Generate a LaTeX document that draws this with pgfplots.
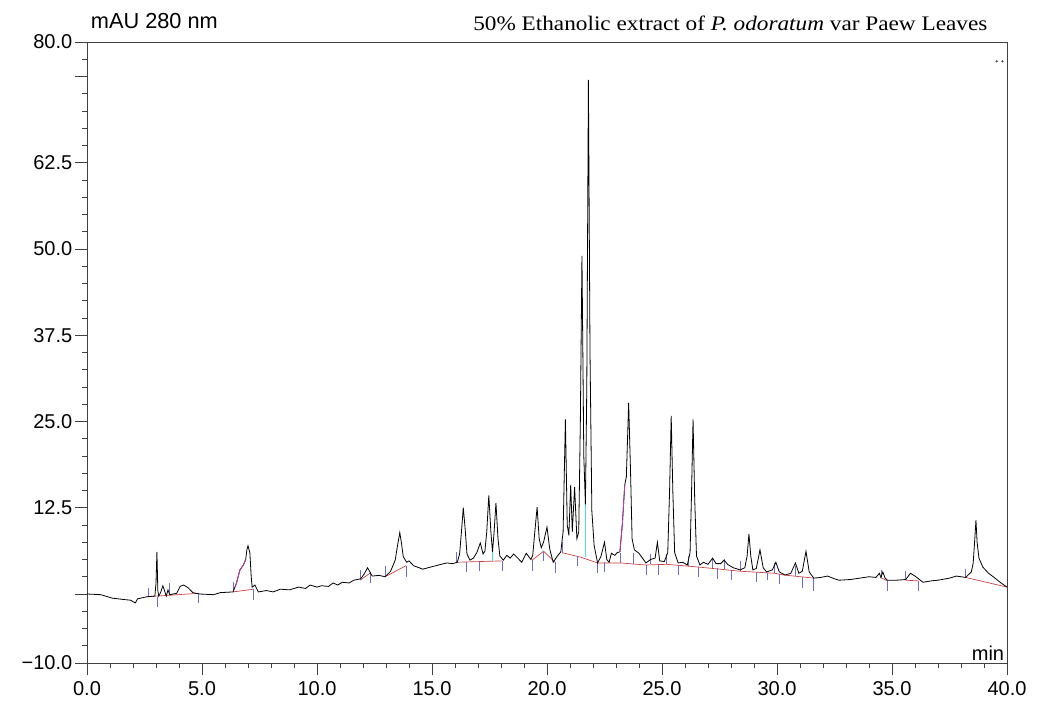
\documentclass[border=0pt]{standalone}
\usepackage{pgfplots}
\pgfplotsset{compat=1.18}
\usepackage{fontspec}
\setmainfont{Liberation Sans}
\newfontfamily\seriffont{Liberation Serif}
\definecolor{basered}{RGB}{205,60,60}
\definecolor{markblue}{RGB}{110,110,200}
\definecolor{dropcyan}{RGB}{90,210,230}
\definecolor{edgemag}{RGB}{190,60,170}
\pgfplotstableread{
x y
0.0 0.0
0.6 -0.1
1.1 -0.6
1.6 -0.8
1.9 -0.9
2.1 -1.3
2.2 -0.7
2.6 -0.4
2.95 -0.3
3.0 1.5
3.04 6.1
3.08 0.5
3.12 -0.3
3.2 0.2
3.3 1.2
3.38 0.4
3.45 -0.3
3.52 0.6
3.6 -0.1
3.75 0.0
3.9 0.1
4.05 1.1
4.2 1.3
4.4 0.9
4.6 0.2
4.9 0.0
5.5 -0.1
5.8 0.2
6.35 0.3
6.5 1.6
6.65 3.5
6.8 4.2
6.9 5.0
6.95 6.4
7.0 7.0
7.08 6.0
7.14 2.5
7.18 1.0
7.3 1.3
7.45 0.3
7.8 0.5
8.1 0.3
8.4 0.7
8.8 0.6
9.2 1.0
9.5 0.8
9.7 1.3
10.0 1.0
10.2 1.2
10.5 1.1
10.7 1.6
10.9 1.3
11.1 1.7
11.4 1.6
11.6 2.0
11.9 2.2
12.05 2.9
12.2 3.8
12.4 2.6
12.7 2.7
12.96 2.5
13.2 3.3
13.4 4.9
13.5 7.0
13.6 8.9
13.68 7.2
13.75 5.4
13.9 4.6
14.0 4.8
14.2 4.1
14.6 3.6
15.05 4.0
15.4 4.3
15.65 4.5
15.9 4.4
16.1 4.6
16.2 5.8
16.28 9.0
16.36 12.5
16.44 9.5
16.52 5.8
16.65 4.9
16.8 5.2
16.95 6.0
17.1 7.4
17.22 5.8
17.3 6.2
17.38 9.0
17.47 14.3
17.56 9.0
17.63 6.1
17.7 9.0
17.78 13.2
17.87 8.0
17.95 5.5
18.1 4.9
18.25 5.6
18.4 5.2
18.55 5.8
18.7 5.3
18.9 4.6
19.1 5.9
19.3 5.0
19.38 5.6
19.47 9.0
19.57 12.6
19.66 8.0
19.75 6.7
19.85 7.5
20.0 9.7
20.12 6.5
20.27 4.6
20.45 5.5
20.6 6.1
20.7 9.0
20.8 25.3
20.88 10.0
20.95 8.5
21.03 15.8
21.1 9.0
21.2 15.5
21.3 8.0
21.38 9.0
21.45 25.0
21.52 49.0
21.6 20.0
21.67 13.0
21.73 30.0
21.8 74.5
21.87 35.0
21.95 12.0
22.05 7.0
22.2 4.5
22.35 5.5
22.5 7.5
22.6 5.0
22.7 4.6
22.8 5.9
22.95 5.6
23.05 6.0
23.17 6.1
23.28 10.3
23.38 15.8
23.45 17.0
23.55 27.7
23.63 18.0
23.7 8.0
23.8 6.4
24.0 5.9
24.3 4.5
24.5 5.0
24.7 5.2
24.8 7.5
24.9 4.8
25.1 4.7
25.25 6.0
25.33 15.0
25.4 25.8
25.47 15.0
25.55 6.0
25.7 4.5
25.9 4.6
26.1 4.2
26.22 6.0
26.28 14.0
26.35 25.3
26.42 14.0
26.5 5.5
26.65 4.2
26.8 4.6
27.0 4.3
27.2 5.2
27.35 4.4
27.55 4.4
27.7 4.9
27.85 4.3
28.1 3.8
28.4 3.5
28.6 3.8
28.7 5.5
28.78 8.7
28.86 5.5
28.95 3.5
29.1 3.7
29.26 6.4
29.4 3.8
29.55 3.2
29.8 3.5
29.95 4.6
30.1 3.2
30.35 2.75
30.6 3.0
30.8 4.5
30.95 3.0
31.1 3.3
31.26 6.2
31.4 3.2
31.6 2.3
31.9 2.4
32.2 2.6
32.5 2.2
32.7 2.0
33.2 2.1
33.6 2.3
34.0 2.5
34.3 2.4
34.45 3.0
34.52 2.4
34.6 3.2
34.7 2.3
34.8 2.0
35.2 2.0
35.6 2.1
35.8 3.0
36.0 2.6
36.35 1.7
36.7 1.9
37.0 2.0
37.5 2.3
37.8 2.6
38.2 2.4
38.45 3.2
38.53 4.5
38.6 8.0
38.65 10.7
38.7 7.5
38.78 5.2
38.95 3.9
39.2 3.0
39.4 2.5
39.7 1.7
40.0 1.0
}\trace
\begin{document}
\begin{tikzpicture}
\path[use as bounding box] (-65.25pt,-29.25pt) rectangle (716.25pt,497.25pt);
\begin{axis}[
  at={(0,0)}, anchor=south west,
  width=690pt, height=465.75pt, scale only axis,
  xmin=0, xmax=40, ymin=-10, ymax=80,
  clip mode=individual,
  axis line style={line width=0.6pt, draw=black!75},
  every tick/.style={line width=0.6pt, draw=black!75},
  tick align=outside, tick pos=left,
  major tick length=9pt, minor tick length=4pt,
  xtick={0,5,...,40},
  xticklabels={0.0,5.0,10.0,15.0,20.0,25.0,30.0,35.0,40.0},
  minor xtick={0,1,...,40},
  ytick={-10,12.5,25,37.5,50,62.5,80},
  yticklabels={−10.0,12.5,25.0,37.5,50.0,62.5,80.0},
  minor ytick={-7.5,-5,...,77.5},
  extra y ticks={0,75}, extra y tick labels={},
  extra y tick style={major tick length=9pt},
  unbounded coords=jump,
  tick label style={font=\fontsize{15}{17}\selectfont},
  xticklabel style={yshift=-1pt},
  yticklabel style={xshift=1.5pt},
]
\addplot[basered, line width=0.5pt] coordinates {
(2.6,-0.4)(4.85,0.1)(4.85,nan)
(6.35,0.3)(7.25,0.7)(7.25,nan)
(11.87,2.0)(12.3,3.0)(12.3,nan)
(12.96,2.5)(13.87,4.1)(13.87,nan)
(16.05,4.6)(18.05,4.8)(18.05,nan)
(19.35,4.9)(19.85,6.2)(20.35,4.6)(20.35,nan)
(20.65,6.0)(21.5,5.3)(22.2,4.5)(23.2,4.5)(24.3,4.2)(25.2,4.3)(26.6,3.9)(28.4,3.3)(29.9,3.0)(30.3,2.75)(31.6,2.3)(31.6,nan)
(34.5,2.4)(34.8,1.9)(34.8,nan)
(35.6,2.0)(36.15,1.9)(36.15,nan)
(38.2,2.4)(40,1.0)
};
\addplot[markblue, line width=0.6pt] coordinates {
(2.65,-0.4)(2.65,0.9)(2.65,nan)
(3.05,-0.4)(3.05,-1.9)(3.05,nan)
(3.6,0.1)(3.6,1.6)(3.6,nan)
(4.85,0.1)(4.85,-1.3)(4.85,nan)
(6.35,0.3)(6.35,1.7)(6.35,nan)
(7.25,0.7)(7.25,-0.9)(7.25,nan)
(11.87,2.0)(11.87,3.5)(11.87,nan)
(12.3,3.2)(12.3,1.6)(12.3,nan)
(12.96,2.5)(12.96,4.1)(12.96,nan)
(13.87,4.1)(13.87,2.5)(13.87,nan)
(16.05,4.6)(16.05,6.1)(16.05,nan)
(16.5,4.6)(16.5,3.2)(16.5,nan)
(17.05,4.7)(17.05,3.3)(17.05,nan)
(18.05,4.8)(18.05,3.3)(18.05,nan)
(19.35,4.9)(19.35,3.4)(19.35,nan)
(19.85,6.2)(19.85,4.8)(19.85,nan)
(20.35,4.6)(20.35,3.1)(20.35,nan)
(20.65,6.0)(20.65,7.5)(20.65,nan)
(21.3,5.5)(21.3,4.0)(21.3,nan)
(22.2,4.5)(22.2,3.0)(22.2,nan)
(22.5,4.6)(22.5,3.2)(22.5,nan)
(23.2,4.5)(23.2,6.0)(23.2,nan)
(23.75,4.4)(23.75,5.9)(23.75,nan)
(24.3,4.2)(24.3,2.7)(24.3,nan)
(24.5,4.3)(24.5,5.8)(24.5,nan)
(24.85,4.3)(24.85,2.8)(24.85,nan)
(25.2,4.3)(25.2,5.8)(25.2,nan)
(25.7,4.2)(25.7,2.8)(25.7,nan)
(26.15,4.0)(26.15,5.5)(26.15,nan)
(26.6,3.9)(26.6,2.4)(26.6,nan)
(27.2,3.7)(27.2,5.2)(27.2,nan)
(27.4,3.7)(27.4,2.2)(27.4,nan)
(27.7,3.6)(27.7,5.0)(27.7,nan)
(28.0,3.5)(28.0,2.0)(28.0,nan)
(28.4,3.3)(28.4,4.8)(28.4,nan)
(29.1,3.2)(29.1,1.7)(29.1,nan)
(29.6,3.1)(29.6,2.0)(29.6,nan)
(29.9,3.0)(29.9,4.5)(29.9,nan)
(30.1,2.9)(30.1,1.4)(30.1,nan)
(30.8,2.6)(30.8,4.0)(30.8,nan)
(31.1,2.5)(31.1,0.8)(31.1,nan)
(31.6,2.3)(31.6,0.5)(31.6,nan)
(34.55,2.4)(34.55,3.5)(34.55,nan)
(34.8,1.9)(34.8,0.4)(34.8,nan)
(35.6,2.0)(35.6,3.3)(35.6,nan)
(36.15,1.9)(36.15,0.4)(36.15,nan)
(38.2,2.4)(38.2,3.6)
};
\addplot[dropcyan, line width=0.6pt] coordinates {
(17.62,4.8)(17.62,6.1)(17.62,nan)
(21.66,5.3)(21.66,13)
};
\addplot[black, line width=0.6pt] table[x=x,y=y] {\trace};
\addplot[edgemag, line width=0.6pt] coordinates {
(6.45,1.0)(6.5,1.6)(6.65,3.5)(6.8,4.2)(6.9,5.0)(6.9,nan)
(23.17,6.1)(23.28,10.3)(23.38,15.8)
};
\addplot[only marks, mark=*, mark size=0.6pt, black!70] coordinates {(39.55,77.2)(39.8,77.2)};
\node[anchor=south east, inner sep=2pt, font=\fontsize{15}{17}\selectfont] at (rel axis cs:1,0) {min};
\node[anchor=base west, inner sep=0pt, font=\fontsize{16.3}{18}\selectfont] at ([yshift=10.5pt]rel axis cs:0.004,1) {mAU 280 nm};
\node[anchor=base east, inner sep=0pt, font=\seriffont\fontsize{15.5}{17}\selectfont] at ([yshift=8.5pt]rel axis cs:0.979,1) {\scalebox{1.125}[1]{50\% Ethanolic extract of \textit{P. odoratum} var Paew Leaves}};
\end{axis}
\end{tikzpicture}
\end{document}
